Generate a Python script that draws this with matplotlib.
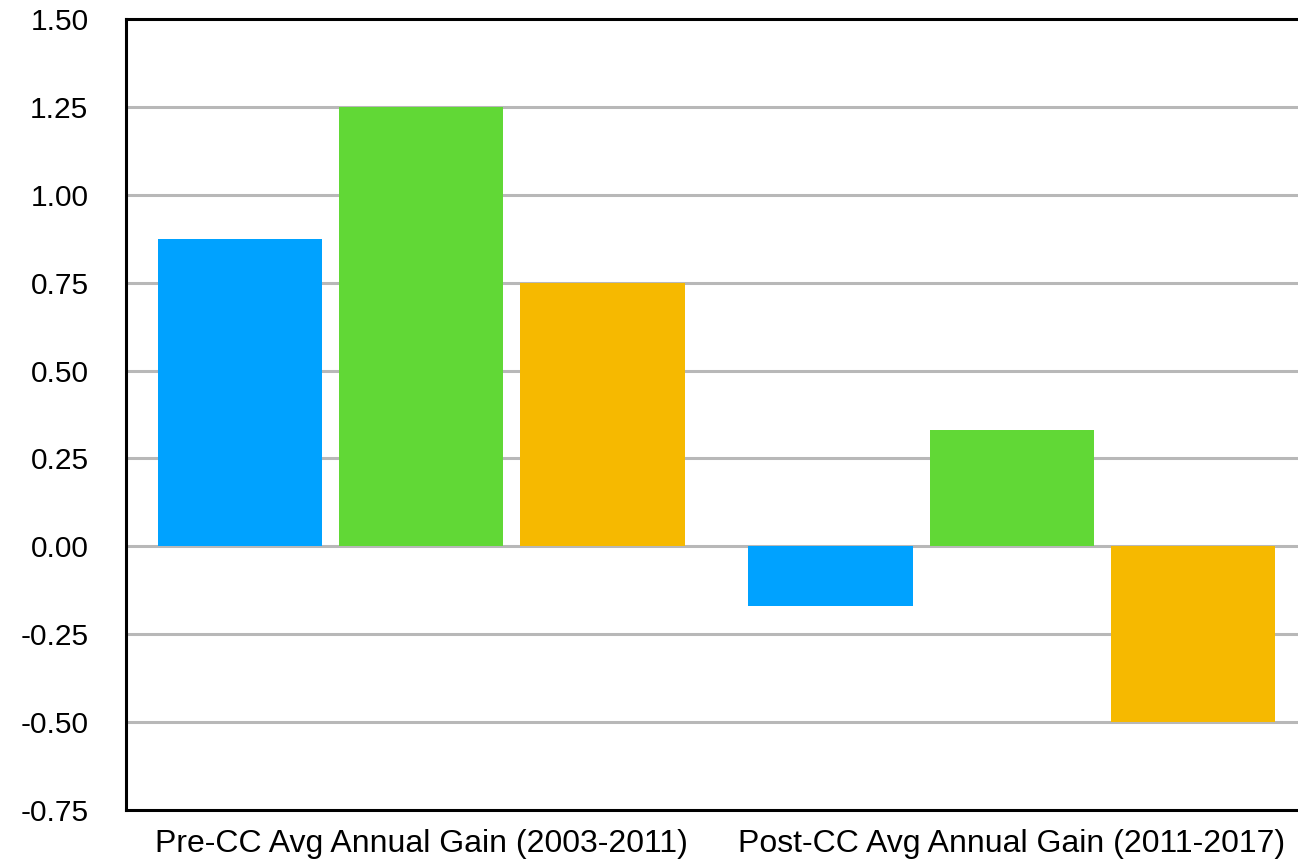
import numpy as np
import matplotlib.pyplot as plt

plt.rcParams['font.family'] = ['Liberation Sans', 'DejaVu Sans']

groups = ["Pre-CC Avg Annual Gain (2003-2011)", "Post-CC Avg Annual Gain (2011-2017)"]
blue_vals = [0.875, -0.17]
green_vals = [1.25, 0.33]
orange_vals = [0.75, -0.50]
yticks = [-0.75, -0.50, -0.25, 0.00, 0.25, 0.50, 0.75, 1.00, 1.25, 1.50]

W, H = 1298, 864
fig = plt.figure(figsize=(W / 100, H / 100), dpi=100)
ax = fig.add_axes([126 / W, 1 - 810 / H, (1307 - 126) / W, (810 - 19) / H])

x = np.arange(len(groups))
step = 0.307
bw = 0.278
cols = ["#00a2ff", "#61d836", "#f6b900"]
for k, (vals, c) in enumerate(zip([blue_vals, green_vals, orange_vals], cols)):
    ax.bar(x + (k - 1) * step, vals, bw, color=c, zorder=2)

ax.set_xlim(-0.5, 1.5)
ax.set_ylim(-0.75, 1.5)
ax.set_yticks(yticks)
ax.set_yticklabels([f"{v:.2f}" for v in yticks])
ax.set_xticks(x)
ax.set_xticklabels(groups)
ax.tick_params(axis='both', length=0)
ax.tick_params(axis='y', pad=27, labelsize=21.5)
ax.tick_params(axis='x', pad=14, labelsize=23)
for v in yticks[1:-1]:
    ax.axhline(v, color="#b8b8b8", lw=2.2, zorder=1)

for s in ['left', 'bottom', 'top']:
    ax.spines[s].set_linewidth(2.2)
    ax.spines[s].set_color('black')
ax.spines['right'].set_visible(False)

fig.savefig("out.png", dpi=100)
